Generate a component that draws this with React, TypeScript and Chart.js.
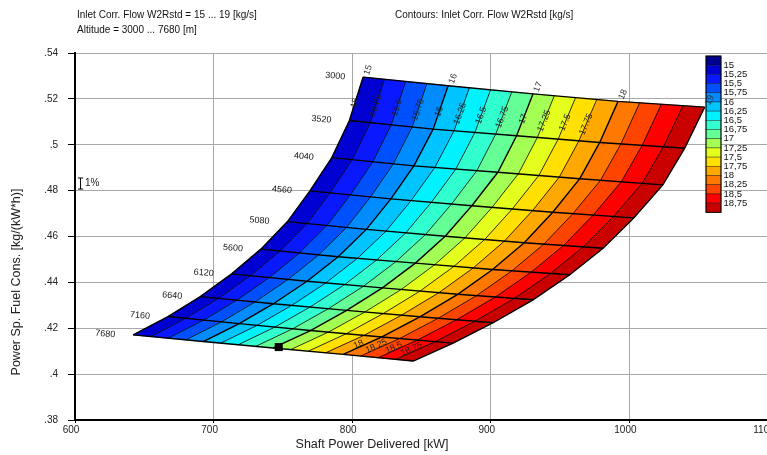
import React, { useEffect, useRef } from 'react';
import { Chart, registerables } from 'chart.js';

Chart.register(...registerables);

const FONT = '"Liberation Sans", Arial, Helvetica, sans-serif';

// ---- data ----
const altitudes = [3000, 3520, 4040, 4560, 5080, 5600, 6120, 6640, 7160, 7680];
const carpetFlows = [15, 16, 17, 18, 19];
// Shaft power delivered [kW]: rows = altitude, cols = carpet flow
const powerGrid = [
  [807.9, 869.2, 930.5, 991.8, 1054.3],
  [798.0, 858.4, 918.6, 978.6, 1039.9],
  [785.3, 844.5, 905.1, 964.2, 1024.1],
  [769.5, 827.9, 886.3, 944.7, 1003.1],
  [753.3, 810.2, 867.1, 924.1, 981.0],
  [734.1, 789.9, 845.6, 901.3, 957.0],
  [713.0, 767.4, 821.8, 876.1, 930.5],
  [690.4, 743.2, 796.0, 848.8, 901.7],
  [667.1, 718.5, 769.9, 821.4, 872.8],
  [642.0, 692.5, 743.0, 793.5, 844.0],
];
// Power specific fuel consumption [kg/(kW*h)]
const sfcGrid = [
  [0.5295, 0.5257, 0.5222, 0.5189, 0.5164],
  [0.5106, 0.5068, 0.5039, 0.5010, 0.4985],
  [0.4944, 0.4908, 0.4880, 0.4852, 0.4825],
  [0.4799, 0.4764, 0.4734, 0.4706, 0.4681],
  [0.4665, 0.4631, 0.4601, 0.4573, 0.4549],
  [0.4545, 0.4512, 0.4484, 0.4456, 0.4433],
  [0.4437, 0.4405, 0.4376, 0.4348, 0.4324],
  [0.4338, 0.4307, 0.4278, 0.4250, 0.4224],
  [0.4251, 0.4220, 0.4190, 0.4162, 0.4135],
  [0.4171, 0.4142, 0.4114, 0.4086, 0.4057],
];
const contourLevels = [15, 15.25, 15.5, 15.75, 16, 16.25, 16.5, 16.75, 17, 17.25, 17.5, 17.75, 18, 18.25, 18.5, 18.75, 19];
const bandColors = [
  '#0000d2', '#0a18ff', '#0050ff', '#008cff', '#00c4ff', '#00f2ff', '#32ffd0', '#64ff96',
  '#a4ff54', '#e4ff1e', '#ffe000', '#ffa800', '#ff7800', '#ff4400', '#ff0000', '#c80000',
];
const belowColor = '#000090';
const legendLabels = ['15', '15,25', '15,5', '15,75', '16', '16,25', '16,5', '16,75', '17', '17,25', '17,5', '17,75', '18', '18,25', '18,5', '18,75'];
const topContourLabels = [15, 15.25, 15.5, 15.75, 16, 16.25, 16.5, 16.75, 17, 17.25, 17.5, 17.75];
const bottomContourLabels = [18, 18.25, 18.5, 18.75];
const xTicks = [600, 700, 800, 900, 1000, 1100];
const yTicks = [0.38, 0.4, 0.42, 0.44, 0.46, 0.48, 0.5, 0.52, 0.54];
const designPoint = [{ x: 747, y: 0.4118 }];
const errorBar = [{ x: 604, y: 0.4807 }, { x: 604, y: 0.4855 }];
const errorBarLabel = '1%';
const titleLine1 = 'Inlet Corr. Flow W2Rstd = 15 ... 19 [kg/s]';
const titleLine2 = 'Altitude = 3000 ... 7680 [m]';
const contourTitle = 'Contours: Inlet Corr. Flow W2Rstd [kg/s]';
const xTitle = 'Shaft Power Delivered [kW]';
const yTitle = 'Power Sp. Fuel Cons. [kg/(kW*h)]';

// ---- helpers ----
const lerp = (a: number, b: number, t: number) => a + (b - a) * t;
function nodeAt(ai: number, flow: number) {
  let j = 0;
  while (j < carpetFlows.length - 2 && flow > carpetFlows[j + 1]) j++;
  const t = (flow - carpetFlows[j]) / (carpetFlows[j + 1] - carpetFlows[j]);
  return { x: lerp(powerGrid[ai][j], powerGrid[ai][j + 1], t), y: lerp(sfcGrid[ai][j], sfcGrid[ai][j + 1], t) };
}
const flowLine = (flow: number) => altitudes.map((_, ai) => nodeAt(ai, flow));
const altitudeLine = (ai: number) => carpetFlows.map((_, j) => ({ x: powerGrid[ai][j], y: sfcGrid[ai][j] }));

function drawText(ctx: CanvasRenderingContext2D, s: string, x: number, y: number, o: any = {}) {
  ctx.save();
  ctx.translate(x, y);
  if (o.rot) ctx.rotate(o.rot);
  ctx.font = `${o.size || 10}px ${FONT}`;
  ctx.fillStyle = o.color || '#111';
  ctx.textAlign = o.align || 'left';
  ctx.textBaseline = o.baseline || 'middle';
  ctx.fillText(s, 0, 0);
  ctx.restore();
}

const fillPlugin = {
  id: 'carpetFill',
  beforeDatasetsDraw(chart: any) {
    const { ctx, chartArea: a, scales } = chart;
    const sx = scales.x, sy = scales.y;
    ctx.save();
    ctx.beginPath();
    ctx.rect(a.left, a.top, a.right - a.left, a.bottom - a.top);
    ctx.clip();
    for (let k = 0; k < bandColors.length; k++) {
      const lo = flowLine(contourLevels[k]);
      const hi = flowLine(contourLevels[k + 1]).reverse();
      const pts = [...lo, ...hi];
      ctx.beginPath();
      pts.forEach((p, i) => {
        const px = sx.getPixelForValue(p.x), py = sy.getPixelForValue(p.y);
        if (i) ctx.lineTo(px, py); else ctx.moveTo(px, py);
      });
      ctx.closePath();
      ctx.fillStyle = bandColors[k];
      ctx.fill();
      ctx.strokeStyle = bandColors[k];
      ctx.lineWidth = 0.6;
      ctx.stroke();
    }
    ctx.restore();
  },
};

const annotationPlugin = {
  id: 'carpetAnnotations',
  afterDatasetsDraw(chart: any) {
    const { ctx, scales } = chart;
    const sx = scales.x, sy = scales.y;
    const P = (p: { x: number; y: number }) => ({ x: sx.getPixelForValue(p.x), y: sy.getPixelForValue(p.y) });

    // colour bar legend
    const lx0 = 706, lx1 = 721, ly0 = 56, ly1 = 212.3;
    const colors = [belowColor, ...bandColors];
    const h = (ly1 - ly0) / colors.length;
    ctx.save();
    colors.forEach((c, i) => {
      ctx.fillStyle = c;
      ctx.fillRect(lx0, ly0 + i * h, lx1 - lx0, h);
      ctx.strokeStyle = 'rgba(0,0,0,0.6)';
      ctx.lineWidth = 0.6;
      ctx.strokeRect(lx0, ly0 + i * h, lx1 - lx0, h);
    });
    ctx.strokeStyle = '#000';
    ctx.lineWidth = 1;
    ctx.strokeRect(lx0, ly0, lx1 - lx0, ly1 - ly0);
    ctx.restore();
    legendLabels.forEach((s, i) => drawText(ctx, s, lx1 + 2.5, ly0 + (i + 1) * h, { size: 9.5, color: '#111' }));

    // altitude labels
    altitudes.forEach((alt, ai) => {
      const a = P(altitudeLine(ai)[0]);
      const b = P(altitudeLine(ai)[carpetFlows.length - 1]);
      const ang = Math.atan2(b.y - a.y, b.x - a.x);
      drawText(ctx, String(alt), a.x - 28, a.y - 1, { size: 9, align: 'center', rot: ang, color: '#111' });
    });

    // carpet flow labels along the top
    carpetFlows.forEach((f) => {
      const a = P(nodeAt(0, f));
      const b = P(nodeAt(1, f));
      const ang = Math.atan2(a.y - b.y, a.x - b.x);
      drawText(ctx, String(f), a.x + 5, a.y - 7, { size: 9, align: 'center', rot: ang, color: '#333' });
    });

    // contour labels
    topContourLabels.forEach((f) => {
      const a = P(nodeAt(0, f));
      const b = P(nodeAt(1, f));
      const ang = Math.atan2(a.y - b.y, a.x - b.x);
      drawText(ctx, String(f), lerp(a.x, b.x, 0.6), lerp(a.y, b.y, 0.6), { size: 9, align: 'center', rot: ang, color: '#222' });
    });
    bottomContourLabels.forEach((f) => {
      const a = P(nodeAt(altitudes.length - 1, f));
      const b = P(nodeAt(altitudes.length - 2, f));
      const ang = Math.atan2(b.y - a.y, b.x - a.x);
      drawText(ctx, String(f), lerp(a.x, b.x, 0.4), lerp(a.y, b.y, 0.4) - 3, { size: 9, align: 'center', rot: ang, color: '#222' });
    });

    // error bar label
    const e0 = P(errorBar[0]), e1 = P(errorBar[1]);
    drawText(ctx, errorBarLabel, e0.x + 4.5, (e0.y + e1.y) / 2, { size: 10, color: '#222' });

    // titles
    drawText(ctx, titleLine1, 77, 15, { size: 10, color: '#111' });
    drawText(ctx, titleLine2, 77, 30, { size: 10, color: '#111' });
    drawText(ctx, contourTitle, 395, 15, { size: 10, color: '#111' });
    drawText(ctx, xTitle, 372, 445, { size: 12.5, align: 'center', color: '#222' });
    drawText(ctx, yTitle, 17, 282, { size: 12.5, align: 'center', rot: -Math.PI / 2, color: '#222' });
  },
};

function lineDataset(data: any[], width: number, order: number) {
  return {
    type: 'scatter',
    data,
    showLine: true,
    borderColor: '#000',
    borderWidth: width,
    pointRadius: 0,
    pointHoverRadius: 0,
    fill: false,
    tension: 0,
    order,
  };
}

export default function App() {
  const ref = useRef<HTMLCanvasElement>(null);
  useEffect(() => {
    const datasets: any[] = [];
    contourLevels
      .filter((f) => !carpetFlows.includes(f))
      .forEach((f) => datasets.push(lineDataset(flowLine(f), 0.8, 3)));
    carpetFlows.forEach((f) => datasets.push(lineDataset(flowLine(f), 1.4, 2)));
    altitudes.forEach((_, ai) => datasets.push(lineDataset(altitudeLine(ai), 1.4, 2)));
    datasets.push({
      type: 'scatter',
      data: designPoint,
      pointStyle: 'rect',
      pointRadius: 5.7,
      pointBackgroundColor: '#000',
      pointBorderWidth: 0,
      order: 1,
    });
    datasets.push({
      type: 'scatter',
      data: errorBar,
      showLine: true,
      borderColor: '#000',
      borderWidth: 1,
      pointStyle: 'line',
      pointRadius: 2.6,
      pointBorderColor: '#000',
      pointBorderWidth: 1,
      order: 1,
    });

    const tickFont = { family: FONT, size: 10 };
    const chart = new Chart(ref.current as HTMLCanvasElement, {
      type: 'scatter',
      data: { datasets },
      options: {
        animation: false,
        responsive: false,
        maintainAspectRatio: false,
        events: [],
        layout: { padding: { top: 53, right: 22, left: 0, bottom: 0 } },
        plugins: { legend: { display: false }, tooltip: { enabled: false }, title: { display: false } },
        scales: {
          x: {
            type: 'linear',
            min: 600,
            max: 1100,
            afterBuildTicks: (s: any) => { s.ticks = xTicks.map((v) => ({ value: v })); },
            afterFit: (s: any) => { s.height = 35; },
            ticks: { font: tickFont, color: '#222', padding: 1, labelOffset: -4, maxRotation: 0, callback: (v: any) => String(v) },
            grid: { color: '#a8a8a8', lineWidth: 1, tickLength: 3, tickColor: '#000' },
            border: { color: '#000', width: 2 },
          },
          y: {
            type: 'linear',
            min: 0.38,
            max: 0.54,
            afterBuildTicks: (s: any) => { s.ticks = yTicks.map((v) => ({ value: v })); },
            afterFit: (s: any) => { s.width = 75; },
            ticks: {
              font: tickFont,
              color: '#222',
              padding: 10,
              callback: (v: any) => String(+Number(v).toFixed(2)).replace(/^0\./, '.'),
            },
            grid: { color: '#a8a8a8', lineWidth: 1, tickLength: 7, tickColor: '#000' },
            border: { color: '#000', width: 2 },
          },
        },
      } as any,
      plugins: [fillPlugin, annotationPlugin],
    } as any);
    return () => chart.destroy();
  }, []);

  return (
    <div style={{ position: 'fixed', left: 0, top: 0, width: 767, height: 455, overflow: 'hidden', background: '#fff' }}>
      <canvas ref={ref} width={790} height={455} style={{ display: 'block', width: 790, height: 455 }} />
    </div>
  );
}
